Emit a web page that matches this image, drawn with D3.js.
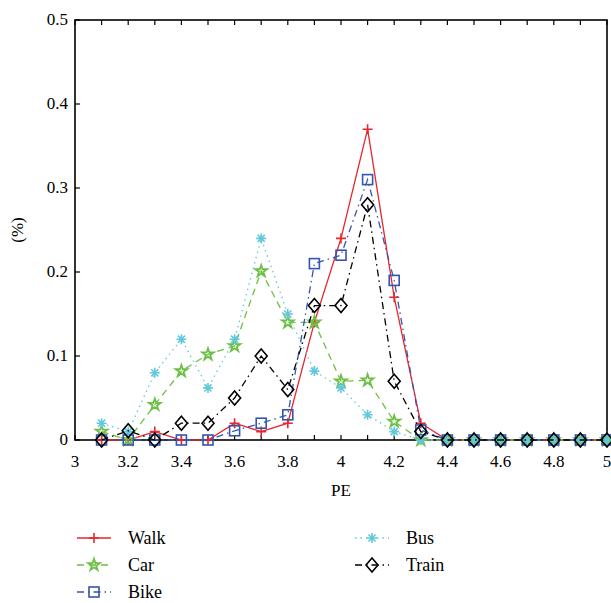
<!DOCTYPE html>
<html>
<head>
<meta charset="utf-8">
<script src="https://cdn.jsdelivr.net/npm/d3@7"></script>
<style>
  body { margin: 0; background: #fff; }
  text { font-family: "Liberation Serif", "DejaVu Serif", serif; }
</style>
</head>
<body>
<svg id="chart" width="611" height="603"></svg>
<script>
// PE values on the x axis
const pe = [3.1, 3.2, 3.3, 3.4, 3.5, 3.6, 3.7, 3.8, 3.9, 4.0, 4.1, 4.2, 4.3, 4.4, 4.5, 4.6, 4.7, 4.8, 4.9, 5.0];

const walk  = [0, 0, 0.01, 0, 0, 0.02, 0.01, 0.02, 0.14, 0.24, 0.37, 0.17, 0.02, 0, 0, 0, 0, 0, 0, 0];
const car   = [0.01, 0, 0.042, 0.082, 0.102, 0.112, 0.201, 0.14, 0.14, 0.07, 0.071, 0.022, 0, 0, 0, 0, 0, 0, 0, 0];
const bike  = [0, 0, 0, 0, 0, 0.011, 0.02, 0.03, 0.21, 0.22, 0.31, 0.19, 0.012, 0, 0, 0, 0, 0, 0, 0];
const bus   = [0.02, 0.01, 0.08, 0.12, 0.062, 0.12, 0.24, 0.15, 0.082, 0.062, 0.03, 0.01, 0, 0, 0, 0, 0, 0, 0, 0];
const train = [0, 0.011, 0, 0.02, 0.02, 0.05, 0.1, 0.06, 0.16, 0.16, 0.28, 0.07, 0.01, 0, 0, 0, 0, 0, 0, 0];

const xTicks = [3, 3.2, 3.4, 3.6, 3.8, 4, 4.2, 4.4, 4.6, 4.8, 5];
const yTicks = [0, 0.1, 0.2, 0.3, 0.4, 0.5];

const series = [
  {name: "Walk",  values: walk,  color: "#e8262b", dash: null,          marker: "plus"},
  {name: "Car",   values: car,   color: "#6dbf45", dash: "7,5",         marker: "star"},
  {name: "Bike",  values: bike,  color: "#3556b0", dash: "7,4,1.5,4",   marker: "square"},
  {name: "Bus",   values: bus,   color: "#62c9dc", dash: "1.5,4",       marker: "asterisk"},
  {name: "Train", values: train, color: "#000000", dash: "7,4,1.5,4",   marker: "diamond"}
];

const svg = d3.select("#chart");
const m = {left: 75, right: 607, top: 20, bottom: 440};

const x = d3.scaleLinear().domain([3, 5]).range([m.left, m.right]);
const y = d3.scaleLinear().domain([0, 0.5]).range([m.bottom, m.top]);

// axes box
svg.append("rect")
  .attr("x", m.left).attr("y", m.top)
  .attr("width", m.right - m.left).attr("height", m.bottom - m.top)
  .attr("fill", "none").attr("stroke", "#000").attr("stroke-width", 1.6);

// ticks on x (every 0.1, inside)
const minor = d3.range(3, 5.0001, 0.1);
svg.append("g").selectAll("line").data(minor).join("line")
  .attr("x1", d => x(d)).attr("x2", d => x(d))
  .attr("y1", m.bottom).attr("y2", m.bottom - 5)
  .attr("stroke", "#000").attr("stroke-width", 1.2);
svg.append("g").selectAll("line").data(minor).join("line")
  .attr("x1", d => x(d)).attr("x2", d => x(d))
  .attr("y1", m.top).attr("y2", m.top + 5)
  .attr("stroke", "#000").attr("stroke-width", 1.2);

svg.append("g").selectAll("line").data(yTicks).join("line")
  .attr("x1", m.left).attr("x2", m.left + 5)
  .attr("y1", d => y(d)).attr("y2", d => y(d))
  .attr("stroke", "#000").attr("stroke-width", 1.2);

svg.append("g").selectAll("text").data(xTicks).join("text")
  .attr("x", d => x(d)).attr("y", m.bottom + 27)
  .attr("text-anchor", "middle").attr("font-size", 17)
  .text(d => +d.toFixed(1));

svg.append("g").selectAll("text").data(yTicks).join("text")
  .attr("x", m.left - 7).attr("y", d => y(d) + 5)
  .attr("text-anchor", "end").attr("font-size", 17)
  .text(d => +d.toFixed(1));

svg.append("text").attr("x", x(4)).attr("y", 496)
  .attr("text-anchor", "middle").attr("font-size", 17).text("PE");
svg.append("text").attr("transform", "translate(23," + y(0.25) + ") rotate(-90)")
  .attr("text-anchor", "middle").attr("font-size", 17).text("(%)");

function drawMarker(g, type, color, cx, cy) {
  const s = 5;
  if (type === "plus") {
    g.append("path").attr("d", `M${cx - s},${cy}H${cx + s}M${cx},${cy - s}V${cy + s}`)
      .attr("stroke", color).attr("stroke-width", 1.6).attr("fill", "none");
  } else if (type === "star") {
    g.append("path").attr("d", d3.symbol(d3.symbolStar, 42)())
      .attr("transform", `translate(${cx},${cy})`)
      .attr("stroke", color).attr("stroke-width", 1.8).attr("fill", "none");
  } else if (type === "square") {
    g.append("rect").attr("x", cx - 5).attr("y", cy - 5).attr("width", 10).attr("height", 10)
      .attr("stroke", color).attr("stroke-width", 1.6).attr("fill", "none");
  } else if (type === "asterisk") {
    let d = "";
    for (let k = 0; k < 4; k++) {
      const a = k * Math.PI / 4;
      d += `M${cx - s * Math.cos(a)},${cy - s * Math.sin(a)}L${cx + s * Math.cos(a)},${cy + s * Math.sin(a)}`;
    }
    g.append("path").attr("d", d).attr("stroke", color).attr("stroke-width", 1.6).attr("fill", "none");
  } else if (type === "diamond") {
    g.append("path").attr("d", `M${cx},${cy - 7}L${cx + 6},${cy}L${cx},${cy + 7}L${cx - 6},${cy}Z`)
      .attr("stroke", color).attr("stroke-width", 1.6).attr("fill", "none");
  }
}

const line = d3.line().x((d, i) => x(pe[i])).y(d => y(d));

const plot = svg.append("g");
series.forEach(s => {
  const g = plot.append("g");
  g.append("path").datum(s.values).attr("d", line)
    .attr("fill", "none").attr("stroke", s.color).attr("stroke-width", 1.3)
    .attr("stroke-dasharray", s.dash);
  s.values.forEach((v, i) => drawMarker(g, s.marker, s.color, x(pe[i]), y(v)));
});

// legend
const legendPos = [
  {col: 0, row: 0}, {col: 0, row: 1}, {col: 0, row: 2},
  {col: 1, row: 0}, {col: 1, row: 1}
];
series.forEach((s, i) => {
  const p = legendPos[i];
  const lx = p.col === 0 ? 77 : 355;
  const ly = 538 + p.row * 27;
  const g = svg.append("g");
  g.append("line").attr("x1", lx).attr("x2", lx + 34).attr("y1", ly).attr("y2", ly)
    .attr("stroke", s.color).attr("stroke-width", 1.3).attr("stroke-dasharray", s.dash);
  drawMarker(g, s.marker, s.color, lx + 17, ly);
  g.append("text").attr("x", lx + 51).attr("y", ly + 6)
    .attr("font-size", 18).text(s.name);
});
</script>
</body>
</html>
